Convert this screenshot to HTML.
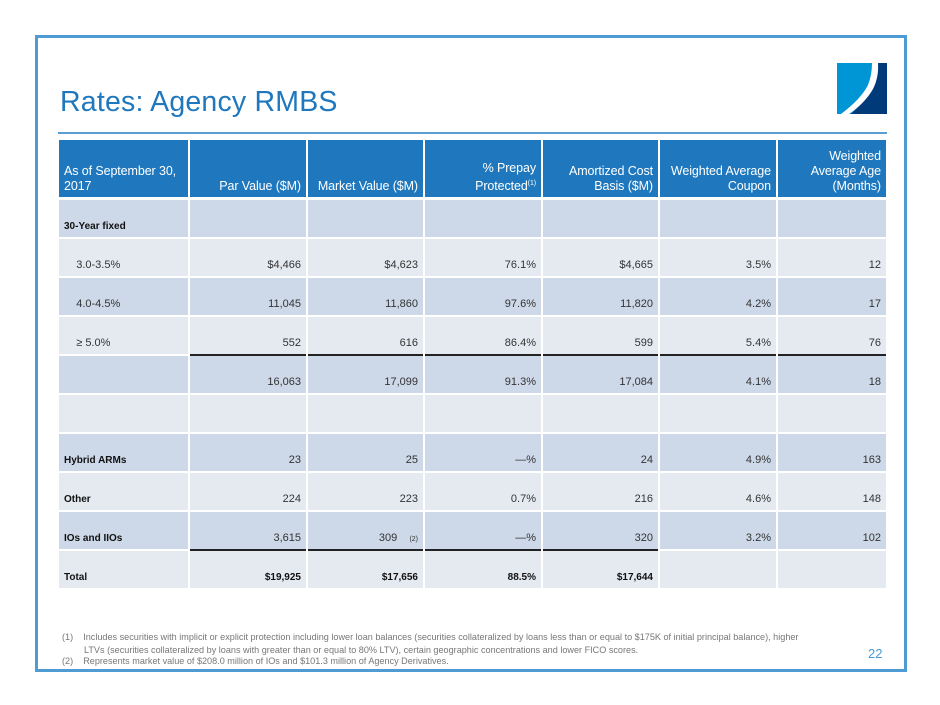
<!DOCTYPE html>
<html><head><meta charset="utf-8"><style>
*{margin:0;padding:0;box-sizing:border-box}
body{width:940px;height:705px;background:#fff;position:relative;font-family:"Liberation Sans",Arial,sans-serif;overflow:hidden}
.frame{position:absolute;left:35px;top:35px;width:872px;height:637px;border:3px solid #4f9bd3}
.title{position:absolute;left:60px;top:86px;font-size:28.5px;color:#1f78bd;letter-spacing:0.2px}
.rule{position:absolute;left:58px;top:132px;width:829px;height:2px;background:#5a9fd4}
.c{position:absolute;font-size:11px;color:#333;text-align:right;padding:0 5px 5px 5px;display:flex;align-items:flex-end;justify-content:flex-end}
.h{background:#1f78bd;color:#fff;font-size:12.5px;line-height:15px;padding:0 5px 3px 5px;letter-spacing:-0.1px}
.l{justify-content:flex-start;text-align:left}
.b{font-weight:bold;font-size:10px;color:#111}
.d{background:#cdd8e8}.g{background:#e5eaf1}
.ul{box-shadow:0 2px 0 #222}
.fn{position:absolute;left:62px;font-size:9.1px;color:#777;line-height:13px}
</style></head><body>
<div class="frame"></div>
<div class="title">Rates: Agency RMBS</div>
<svg style="position:absolute;left:837px;top:63px" width="50" height="52" viewBox="0 0 50 52">
<rect x="0" y="0" width="50" height="51" fill="#0096d6"/>
<path d="M40 0 L50 0 L50 51 L14 51 Q30 36 36 24 Q40 12 40 0Z" fill="#003a78"/>
<path d="M35 0 L41 0 Q42 14 36 26 Q28 40 12 51 L4 51 Q24 36 31 22 Q35 12 35 0Z" fill="#fff"/>
</svg>
<div class="rule"></div>
<div id="t"></div>
<div class="fn" style="top:631px">(1)&nbsp;&nbsp;&nbsp;&nbsp;Includes securities with implicit or explicit protection including lower loan balances (securities collateralized by loans less than or equal to $175K of initial principal balance), higher</div>
<div class="fn" style="top:644px;left:84px">LTVs (securities collateralized by loans with greater than or equal to 80% LTV), certain geographic concentrations and lower FICO scores.</div>
<div class="fn" style="top:655px">(2)&nbsp;&nbsp;&nbsp;&nbsp;Represents market value of $208.0 million of IOs and $101.3 million of Agency Derivatives.</div>
<div style="position:absolute;left:868px;top:646px;font-size:13px;color:#4a9ad4">22</div>
<script>
var X=[[59,188],[190,306],[308,423],[425,541],[543,658],[660,776],[778,886]];
var H=["As of September 30, 2017","Par Value ($M)","Market Value ($M)","% Prepay Protected<sup style='font-size:7px'>(1)</sup>","Amortized Cost Basis ($M)","Weighted Average Coupon","Weighted Average Age (Months)"];
var R=[
["<b>30-Year fixed</b>","","","","","",""],
["&nbsp;&nbsp;&nbsp;&nbsp;3.0-3.5%","$4,466","$4,623","76.1%","$4,665","3.5%","12"],
["&nbsp;&nbsp;&nbsp;&nbsp;4.0-4.5%","11,045","11,860","97.6%","11,820","4.2%","17"],
["&nbsp;&nbsp;&nbsp;&nbsp;≥ 5.0%","552","616","86.4%","599","5.4%","76"],
["","16,063","17,099","91.3%","17,084","4.1%","18"],
["","","","","","",""],
["<b>Hybrid ARMs</b>","23","25","—%","24","4.9%","163"],
["<b>Other</b>","224","223","0.7%","216","4.6%","148"],
["<b>IOs and IIOs</b>","3,615","309&nbsp;&nbsp;&nbsp;&nbsp;<span style='font-size:7px'>(2)</span>","—%","320","3.2%","102"],
["<b>Total</b>","<b>$19,925</b>","<b>$17,656</b>","<b>88.5%</b>","<b>$17,644</b>","",""]];
var s="";
for(var j=0;j<7;j++){s+='<div class="c h'+(j==0?' l':'')+'" style="left:'+X[j][0]+'px;top:140px;width:'+(X[j][1]-X[j][0])+'px;height:57px">'+'<span>'+H[j]+'</span></div>';}
for(var i=0;i<10;i++){var yy=200+i*39;
for(var j=0;j<7;j++){var cls="c "+(i%2==0?"d":"g");if(j==0)cls+=" l";
var txt=R[i][j];if(txt.indexOf("<b>")>=0)cls+=" b";
var ul=(i==3&&j>0)||(i==8&&j>0&&j<5);
s+='<div class="'+cls+(ul?' ul':'')+'" style="left:'+X[j][0]+'px;top:'+yy+'px;width:'+(X[j][1]-X[j][0])+'px;height:37px"><span>'+txt+'</span></div>';}}
document.getElementById("t").innerHTML=s;
</script>
</body></html>
